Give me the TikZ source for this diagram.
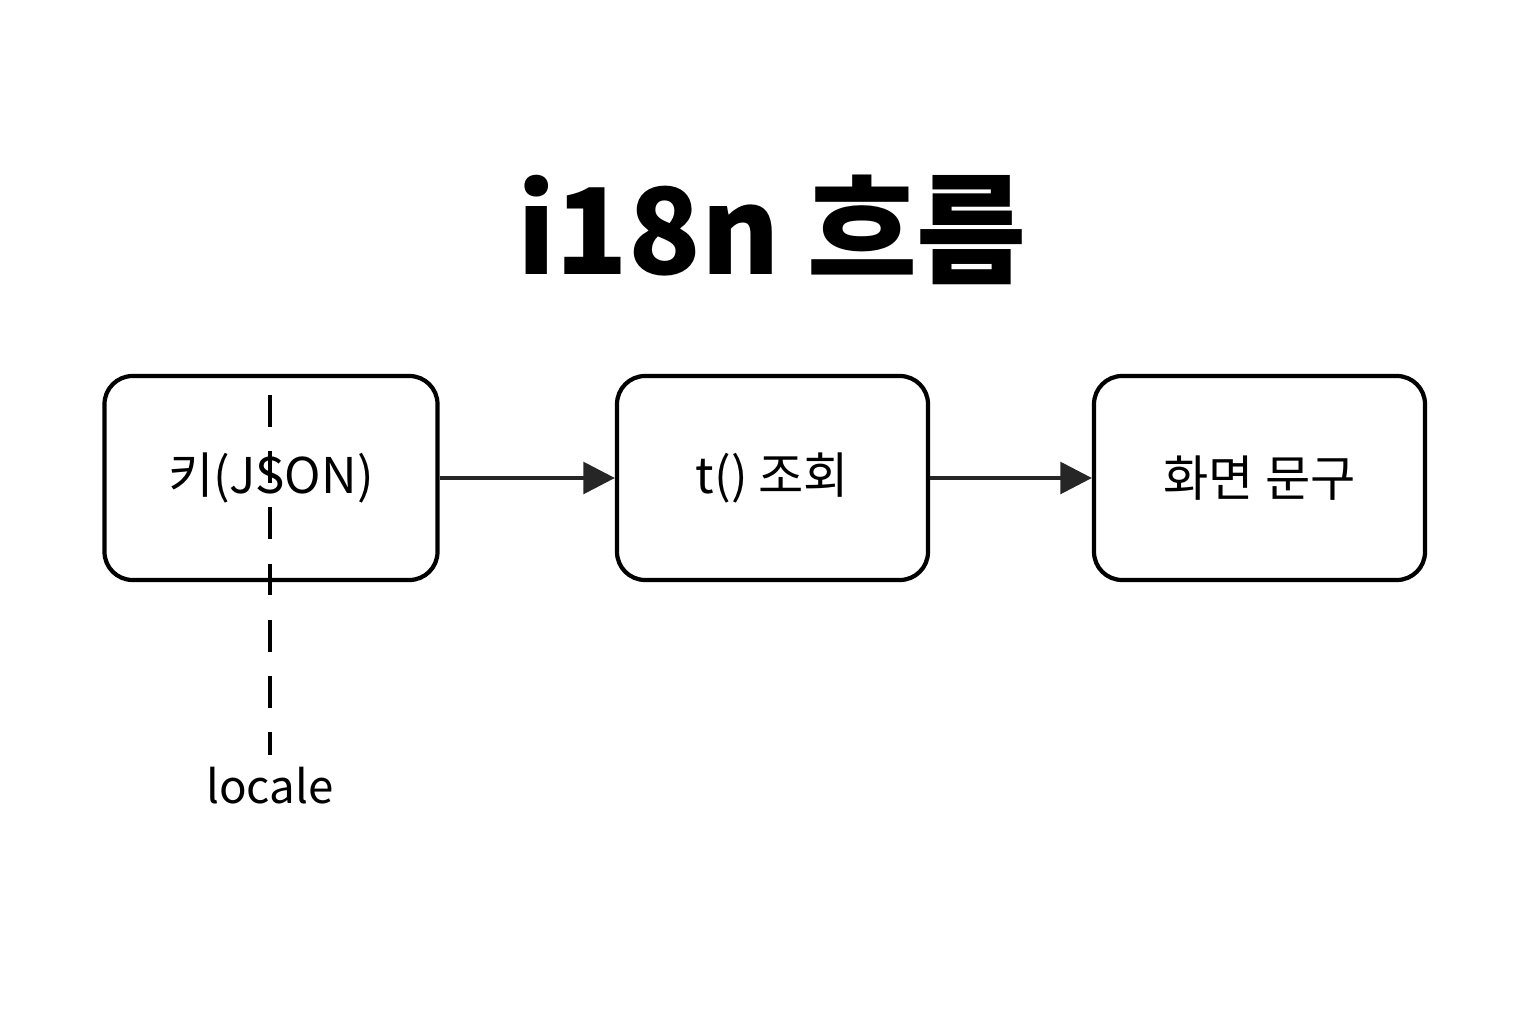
\documentclass[tikz,border=0pt]{standalone}
\usepackage{fontspec}
\setmainfont{Noto Sans CJK KR}
\usetikzlibrary{arrows.meta,positioning}

\tikzset{
	stufe/.style={draw,line width=1.2pt,rounded corners=8pt,
		minimum width=3.33cm,minimum height=2.04cm,font=\fontsize{14}{16}\selectfont},
	pfeil/.style={-{Triangle[length=9pt,width=9pt]},line width=1.2pt,color=black!85}
}

\begin{document}
\begin{tikzpicture}[x=1cm,y=1cm]

\useasboundingbox (0,0) rectangle (15.36,10.24);

\node (titel) at (7.72,7.94) {\fontsize{34}{40}\selectfont\bfseries i18n 흐름};

\node[stufe] (schluessel) at (2.71,5.46) {키(JSON)};
\node[stufe,minimum width=3.11cm] (abfrage) at (7.725,5.46) {t() 조회};
\node[stufe,minimum width=3.31cm] (anzeige) at (12.595,5.46) {화면 문구};

\draw[pfeil] (schluessel) -- (abfrage);
\draw[pfeil] (abfrage) -- (anzeige);

\node (locale) at (2.70,2.38) {\fontsize{13}{15}\selectfont locale};
\coordinate (oben) at (2.70,6.29);
\draw[dashed,line width=1pt,dash pattern=on 9pt off 7pt] (2.70,6.29) -- (locale.north);

\end{tikzpicture}
\end{document}
